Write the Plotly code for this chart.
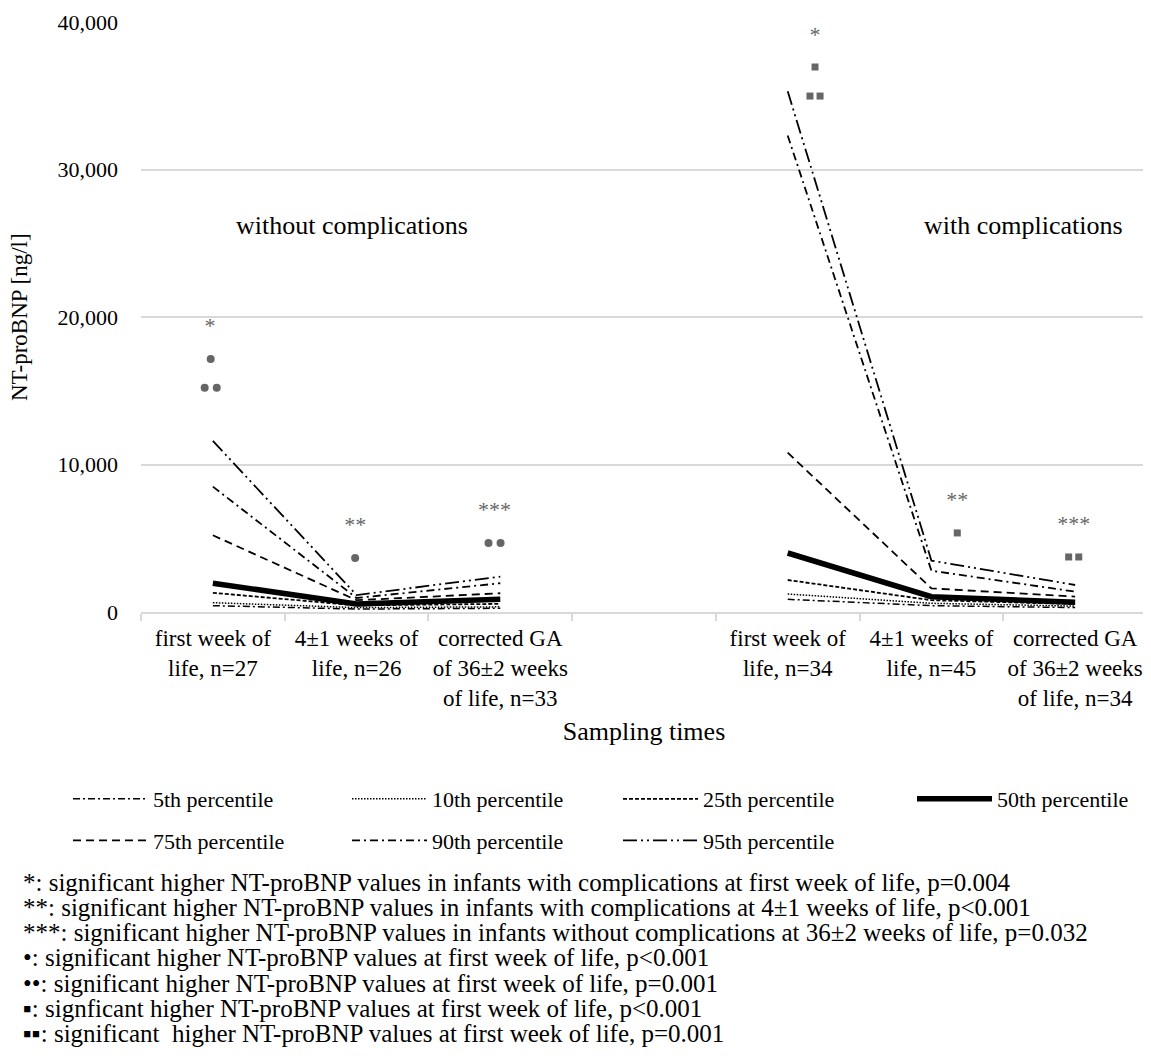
import plotly.graph_objects as go

# ---------------- data ----------------
categories = [
    "first week of<br>life, n=27",
    "4±1 weeks of<br>life, n=26",
    "corrected GA<br>of 36±2 weeks<br>of life, n=33",
    " ",
    "first week of<br>life, n=34",
    "4±1 weeks of<br>life, n=45",
    "corrected GA<br>of 36±2 weeks<br>of life, n=34",
]
group_without = categories[0:3]
group_with = categories[4:7]

percentiles = ["5th percentile", "10th percentile", "25th percentile", "50th percentile",
               "75th percentile", "90th percentile", "95th percentile"]

# NT-proBNP [ng/l], without complications (first week, 4±1 weeks, corrected GA 36±2)
without_p5 = [430, 200, 250]
without_p10 = [630, 300, 350]
without_p25 = [1300, 450, 550]
without_p50 = [1950, 550, 860]
without_p75 = [5200, 800, 1270]
without_p90 = [8500, 950, 1950]
without_p95 = [11600, 1150, 2400]

# with complications
with_p5 = [860, 430, 300]
with_p10 = [1220, 590, 400]
with_p25 = [2170, 800, 540]
with_p50 = [4000, 1040, 660]
with_p75 = [10800, 1600, 1040]
with_p90 = [32300, 2800, 1380]
with_p95 = [35300, 3480, 1830]

# significance marks
star_cats = [categories[0], categories[1], categories[2], categories[4], categories[5], categories[6]]
star_vals = [19300, 5800, 6800, 39000, 7500, 5850]
star_text = ["*", "**", "***", "*", "**", "***"]

dot_cats = [categories[0], categories[1]]
dot_vals = [17150, 3660]
dot2_cats = [categories[0], categories[2]]
dot2_vals = [15200, 4680]

sq_cats = [categories[4], categories[5]]
sq_vals = [36950, 5360]
sq2_cats = [categories[4], categories[6]]
sq2_vals = [34980, 3730]

footnotes = [
    "*: significant higher NT-proBNP values in infants with complications at first week of life, p=0.004",
    "**: significant higher NT-proBNP values in infants with complications at 4±1 weeks of life, p<0.001",
    "***: significant higher NT-proBNP values in infants without complications at 36±2 weeks of life, p=0.032",
    "•: significant higher NT-proBNP values at first week of life, p<0.001",
    "••: significant higher NT-proBNP values at first week of life, p=0.001",
    "▪: signficant higher NT-proBNP values at first week of life, p<0.001",
    "▪▪: significant  higher NT-proBNP values at first week of life, p=0.001",
]

# ---------------- layout geometry (page pixels; figure sits at an 8px page offset) ----------------
FONT = "'Liberation Serif', 'Times New Roman', Times, serif"
OFF = 8
PAGE_W, PAGE_H = 1151, 1060
W, H = PAGE_W - OFF, PAGE_H - OFF
PLOT_L, PLOT_R, PLOT_T, PLOT_B = 141, 1147, 22, 612
L, R, T, B = PLOT_L - OFF, PAGE_W - PLOT_R, PLOT_T - OFF, PAGE_H - PLOT_B
PW, PH = PLOT_R - PLOT_L, PLOT_B - PLOT_T


def px_x(px):  # page px -> paper x
    return (px - PLOT_L) / PW


def px_y(py):  # page px -> paper y
    return (PLOT_B - py) / PH


def cx(px):  # page px -> container x
    return (px - OFF) / W


def cy(py):  # page px -> container y
    return 1 - (py - OFF) / H


styles = {
    "5th percentile": dict(dash="7px,3px,2px,3px", width=1.5),
    "10th percentile": dict(dash="1.5px,1.5px", width=1.5),
    "25th percentile": dict(dash="4px,2px", width=1.8),
    "50th percentile": dict(dash="solid", width=5.5),
    "75th percentile": dict(dash="8px,5px", width=1.8),
    "90th percentile": dict(dash="8px,4px,2px,4px", width=1.8),
    "95th percentile": dict(dash="14px,4px,2px,4px,2px,4px", width=1.8),
}
# legend column for each percentile (two rows, four columns)
legend_of = {
    "5th percentile": "legend", "75th percentile": "legend",
    "10th percentile": "legend2", "90th percentile": "legend2",
    "25th percentile": "legend3", "95th percentile": "legend3",
    "50th percentile": "legend4",
}

without_series = [without_p5, without_p10, without_p25, without_p50, without_p75, without_p90, without_p95]
with_series = [with_p5, with_p10, with_p25, with_p50, with_p75, with_p90, with_p95]

idx = {c: i for i, c in enumerate(categories)}

fig = go.Figure()
for name, wo, wi in zip(percentiles, without_series, with_series):
    st = styles[name]
    line = dict(color="black", width=st["width"], dash=st["dash"])
    fig.add_trace(go.Scatter(x=[idx[c] for c in group_without], y=wo, mode="lines",
                             line=line, name=name, legendgroup=name, showlegend=True,
                             legend=legend_of[name]))
    fig.add_trace(go.Scatter(x=[idx[c] for c in group_with], y=wi, mode="lines",
                             line=line, name=name, legendgroup=name, showlegend=False,
                             legend=legend_of[name]))

GRAY = "#666666"
star_dx = [-0.02, -0.01, -0.04, 0.19, 0.18, -0.01]
fig.add_trace(go.Scatter(x=[idx[c] + d for c, d in zip(star_cats, star_dx)], y=star_vals,
                         mode="text", text=star_text, textposition="middle center",
                         textfont=dict(family=FONT, size=22, color=GRAY),
                         showlegend=False, hoverinfo="skip"))
dot_dx = [-0.015, -0.01]
fig.add_trace(go.Scatter(x=[idx[c] + d for c, d in zip(dot_cats, dot_dx)], y=dot_vals,
                         mode="markers", marker=dict(symbol="circle", size=8, color=GRAY),
                         showlegend=False, hoverinfo="skip"))
dot2_dx = [-0.015, -0.04]
xs, ys = [], []
for c, d, v in zip(dot2_cats, dot2_dx, dot2_vals):
    xs += [idx[c] + d - 0.042, idx[c] + d + 0.042]
    ys += [v, v]
fig.add_trace(go.Scatter(x=xs, y=ys, mode="markers",
                         marker=dict(symbol="circle", size=8, color=GRAY),
                         showlegend=False, hoverinfo="skip"))
sq_dx = [0.19, 0.18]
fig.add_trace(go.Scatter(x=[idx[c] + d for c, d in zip(sq_cats, sq_dx)], y=sq_vals,
                         mode="markers", marker=dict(symbol="square", size=7, color=GRAY),
                         showlegend=False, hoverinfo="skip"))
sq2_dx = [0.19, -0.01]
xs, ys = [], []
for c, d, v in zip(sq2_cats, sq2_dx, sq2_vals):
    xs += [idx[c] + d - 0.035, idx[c] + d + 0.035]
    ys += [v, v]
fig.add_trace(go.Scatter(x=xs, y=ys, mode="markers",
                         marker=dict(symbol="square", size=7, color=GRAY),
                         showlegend=False, hoverinfo="skip"))

# group labels
fig.add_annotation(x=0.968, y=26200, xref="x", yref="y", text="without complications",
                   showarrow=False, font=dict(family=FONT, size=26, color="black"))
fig.add_annotation(x=5.64, y=26200, xref="x", yref="y", text="with complications",
                   showarrow=False, font=dict(family=FONT, size=26, color="black"))

# y axis title
fig.add_annotation(x=px_x(19), y=px_y(317), xref="paper", yref="paper", text="NT-proBNP [ng/l]",
                   textangle=-90, showarrow=False, xanchor="center", yanchor="middle",
                   font=dict(family=FONT, size=23, color="black"))

# footnotes (below the chart)
for i, t in enumerate(footnotes):
    py = 882 + i * 25.3
    fig.add_annotation(x=px_x(21), xref="paper", y=px_y(py), yref="paper",
                       text=t, showarrow=False, xanchor="left", yanchor="middle",
                       font=dict(family=FONT, size=25, color="black"))

leg_common = dict(orientation="v", xref="container", yref="container", xanchor="left",
                  yanchor="top", y=cy(778), tracegroupgap=10, itemwidth=75,
                  font=dict(family=FONT, size=22, color="black"), bgcolor="rgba(0,0,0,0)")

fig.update_layout(
    width=W, height=H,
    margin=dict(l=L, r=R, t=T, b=B, autoexpand=False),
    paper_bgcolor="white", plot_bgcolor="white",
    font=dict(family=FONT, size=22, color="black"),
    showlegend=True,
    legend=dict(x=cx(68), **leg_common),
    legend2=dict(x=cx(347), **leg_common),
    legend3=dict(x=cx(618), **leg_common),
    legend4=dict(x=cx(912), **leg_common),
    xaxis=dict(range=[-0.5, 6.5], tickmode="array", tickvals=list(range(len(categories))),
               ticktext=categories, ticks="", showgrid=False, zeroline=False, automargin=False,
               showline=True, linecolor="#d9d9d9", linewidth=1.5, ticklabelstandoff=5,
               minor=dict(tick0=-0.5, dtick=1, ticks="outside", ticklen=7,
                          tickcolor="#d9d9d9", tickwidth=1.5, showgrid=False),
               tickfont=dict(family=FONT, size=23, color="black"),
               title=dict(text="Sampling times", font=dict(family=FONT, size=26, color="black"),
                          standoff=12)),
    yaxis=dict(range=[0, 40000], tickvals=[0, 10000, 20000, 30000, 40000], tickformat=",",
               showgrid=True, gridcolor="#d9d9d9", gridwidth=1.5, zeroline=False, automargin=False,
               ticks="", ticklabelstandoff=22, tickfont=dict(family=FONT, size=22, color="black")),
)

fig.write_html("out.html")
